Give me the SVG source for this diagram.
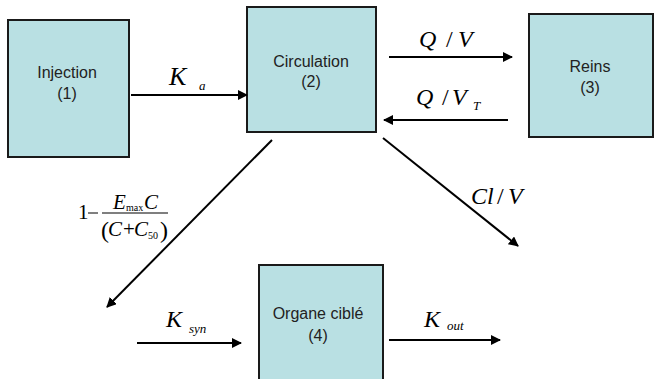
<svg xmlns="http://www.w3.org/2000/svg" width="656" height="379" viewBox="0 0 656 379">
<defs>
<marker id="ah" markerWidth="10" markerHeight="10" refX="9" refY="5" orient="auto" markerUnits="userSpaceOnUse" viewBox="0 0 10 10">
<path d="M0,0 L10,5 L0,10 z" fill="#000"/>
</marker>
<style>
.box{fill:#B9E0E3;stroke:#1a1a1a;stroke-width:2}
.lbl{font-family:"Liberation Sans",Arial,sans-serif;font-size:16px;fill:#222;text-anchor:middle}
.m{font-family:"Liberation Serif","Times New Roman",serif;font-style:italic;fill:#000}
.mr{font-family:"Liberation Serif","Times New Roman",serif;fill:#000}
.c{stroke:#000;stroke-width:2;fill:none;marker-end:url(#ah)}
</style>
</defs>
<rect width="656" height="379" fill="#fff"/>
<g id="n1"><rect class="box" x="8" y="20" width="121" height="137"/><text class="lbl" x="67" y="78">Injection</text><text class="lbl" x="67" y="99">(1)</text></g>
<g id="n2"><rect class="box" x="247" y="7" width="129" height="125"/><text class="lbl" x="311" y="67">Circulation</text><text class="lbl" x="311" y="87">(2)</text></g>
<g id="n3"><rect class="box" x="529" y="14" width="124" height="123"/><text class="lbl" x="590" y="72">Reins</text><text class="lbl" x="590" y="93">(3)</text></g>
<g id="n4"><rect class="box" x="259" y="265" width="124" height="118"/><text class="lbl" x="318" y="319">Organe ciblé</text><text class="lbl" x="318" y="341">(4)</text></g>
<g id="connectors">
<line class="c" x1="131" y1="95" x2="247" y2="95"/>
<line class="c" x1="389" y1="57" x2="512" y2="57"/>
<line class="c" x1="508" y1="120" x2="384" y2="120"/>
<line class="c" x1="272" y1="140" x2="107" y2="307"/>
<line class="c" x1="383" y1="138" x2="518" y2="246"/>
<line class="c" x1="137" y1="343" x2="241" y2="343"/>
<line class="c" x1="389" y1="340" x2="500" y2="340"/>
</g>
<g id="labels">
<text class="m" x="169" y="85" font-size="26">K</text><text class="m" x="199" y="90" font-size="13">a</text>
<text class="m" x="419" y="47" font-size="24">Q</text><text class="mr" x="446" y="47" font-size="24">/</text><text class="m" x="458" y="47" font-size="24">V</text>
<text class="m" x="416" y="105" font-size="24">Q</text><text class="mr" x="442" y="105" font-size="24">/</text><text class="m" x="452" y="105" font-size="24">V</text><text class="m" x="473" y="110" font-size="13">T</text>
<text class="m" x="471" y="204" font-size="24">Cl</text><text class="mr" x="497" y="204" font-size="24">/</text><text class="m" x="508" y="204" font-size="24">V</text>
<text class="m" x="166" y="327" font-size="24">K</text><text class="m" x="189" y="333" font-size="13">syn</text>
<text class="m" x="424" y="327" font-size="24">K</text><text class="m" x="447" y="330" font-size="13">out</text>
<text class="mr" x="78" y="219" font-size="21">1</text>
<line x1="88" y1="213" x2="98" y2="213" stroke="#000" stroke-width="1"/>
<line x1="102" y1="213" x2="168" y2="213" stroke="#000" stroke-width="1.2"/>
<text class="m" x="113" y="209" font-size="21">E</text><text class="mr" x="126" y="211" font-size="10">max</text><text class="m" x="144" y="209" font-size="21">C</text>
<text class="mr" x="101" y="238" font-size="24">(</text><text class="m" x="108" y="236" font-size="21">C</text><text class="mr" x="123" y="236" font-size="21">+</text><text class="m" x="134" y="236" font-size="21">C</text><text class="mr" x="148" y="239" font-size="10">50</text><text class="mr" x="160" y="238" font-size="24">)</text>
</g>
</svg>
